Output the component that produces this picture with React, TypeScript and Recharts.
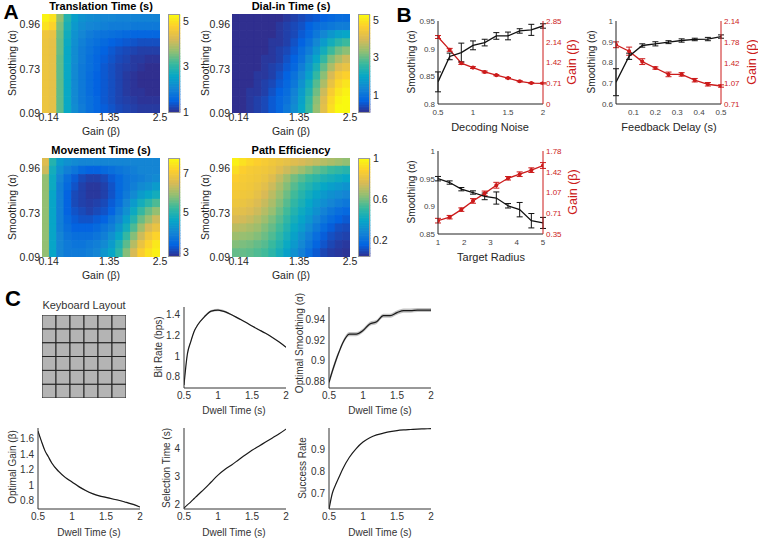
import React from "react";
import { Area, ComposedChart, ErrorBar, Line, Scatter, XAxis, YAxis } from "recharts";

const FONT = '"Liberation Sans", Arial, Helvetica, sans-serif';
const RED = "#cc1b1b";
const INK = "#262626";

// ---------- A: parameter sweeps (16 gain columns x 12 smoothing rows, row 0 = top) ----------
const gainTickLabels = ["0.14", "1.35", "2.5"];
const smoothTickLabels = ["0.96", "0.73", "0.09"];

const translationTime = [
  [5.2, 5.0, 3.7, 2.9, 2.45, 2.25, 2.15, 2.1, 2.05, 2.05, 2.0, 2.0, 2.0, 2.0, 2.0, 2.0],
  [5.0, 4.8, 3.55, 2.8, 2.35, 2.15, 2.05, 2.0, 1.95, 1.9, 1.9, 1.9, 1.85, 1.85, 1.85, 1.85],
  [4.55, 4.45, 3.45, 2.7, 2.25, 2.05, 1.9, 1.8, 1.75, 1.7, 1.65, 1.6, 1.55, 1.55, 1.55, 1.55],
  [4.5, 4.4, 3.4, 2.65, 2.2, 1.95, 1.8, 1.7, 1.6, 1.5, 1.45, 1.4, 1.35, 1.3, 1.3, 1.3],
  [4.5, 4.4, 3.4, 2.6, 2.15, 1.9, 1.75, 1.6, 1.5, 1.4, 1.3, 1.25, 1.2, 1.15, 1.15, 1.15],
  [4.5, 4.4, 3.35, 2.6, 2.15, 1.9, 1.7, 1.55, 1.45, 1.35, 1.25, 1.2, 1.1, 1.1, 1.05, 1.05],
  [4.5, 4.4, 3.35, 2.6, 2.1, 1.85, 1.7, 1.55, 1.4, 1.3, 1.2, 1.15, 1.1, 1.05, 1.0, 1.0],
  [4.5, 4.4, 3.35, 2.6, 2.1, 1.85, 1.65, 1.5, 1.4, 1.3, 1.2, 1.1, 1.05, 1.0, 1.0, 1.0],
  [4.5, 4.4, 3.35, 2.6, 2.1, 1.85, 1.65, 1.5, 1.4, 1.3, 1.2, 1.1, 1.05, 1.0, 1.0, 1.0],
  [4.5, 4.4, 3.35, 2.6, 2.1, 1.85, 1.65, 1.5, 1.4, 1.3, 1.2, 1.1, 1.05, 1.05, 1.0, 1.0],
  [4.5, 4.4, 3.35, 2.6, 2.1, 1.85, 1.7, 1.55, 1.4, 1.3, 1.2, 1.15, 1.1, 1.05, 1.05, 1.05],
  [4.5, 4.4, 3.35, 2.6, 2.15, 1.9, 1.7, 1.55, 1.45, 1.35, 1.25, 1.2, 1.15, 1.1, 1.1, 1.1]
];

const dialInTime = [
  [0.1, 0.1, 0.1, 0.1, 0.1, 0.1, 0.1, 0.2, 0.3, 0.4, 0.5, 0.6, 0.7, 0.8, 0.9, 0.9],
  [0.1, 0.1, 0.1, 0.1, 0.1, 0.1, 0.2, 0.3, 0.4, 0.5, 0.7, 0.9, 1.0, 1.1, 1.2, 1.2],
  [0.1, 0.1, 0.1, 0.1, 0.1, 0.1, 0.2, 0.3, 0.4, 0.6, 0.8, 1.1, 1.4, 1.7, 1.9, 2.0],
  [0.1, 0.1, 0.1, 0.1, 0.1, 0.2, 0.2, 0.3, 0.5, 0.7, 1.0, 1.4, 1.8, 2.2, 2.5, 2.7],
  [0.1, 0.1, 0.1, 0.1, 0.1, 0.2, 0.3, 0.4, 0.6, 0.9, 1.2, 1.7, 2.2, 2.7, 3.1, 3.3],
  [0.1, 0.1, 0.1, 0.1, 0.2, 0.2, 0.3, 0.5, 0.7, 1.0, 1.5, 2.0, 2.6, 3.2, 3.6, 3.9],
  [0.1, 0.1, 0.1, 0.1, 0.2, 0.3, 0.4, 0.6, 0.8, 1.2, 1.7, 2.3, 3.0, 3.6, 4.1, 4.3],
  [0.1, 0.1, 0.1, 0.2, 0.2, 0.3, 0.5, 0.7, 1.0, 1.4, 1.9, 2.6, 3.3, 4.0, 4.5, 4.7],
  [0.1, 0.1, 0.1, 0.2, 0.3, 0.4, 0.6, 0.8, 1.1, 1.6, 2.2, 2.9, 3.6, 4.3, 4.8, 5.0],
  [0.1, 0.1, 0.2, 0.2, 0.3, 0.5, 0.7, 0.9, 1.3, 1.8, 2.4, 3.1, 3.9, 4.6, 5.0, 5.2],
  [0.1, 0.1, 0.2, 0.3, 0.4, 0.6, 0.8, 1.0, 1.4, 1.9, 2.6, 3.3, 4.1, 4.8, 5.2, 5.3],
  [0.1, 0.1, 0.2, 0.3, 0.4, 0.6, 0.8, 1.1, 1.5, 2.0, 2.7, 3.4, 4.2, 4.9, 5.3, 5.3]
];

const movementTime = [
  [6.6, 5.0, 4.4, 4.2, 4.1, 4.0, 4.0, 4.0, 4.0, 4.0, 4.0, 4.0, 4.0, 4.0, 4.0, 4.0],
  [6.4, 4.8, 4.2, 3.9, 3.7, 3.5, 3.4, 3.4, 3.5, 3.6, 3.7, 3.8, 3.9, 4.0, 4.0, 4.0],
  [5.9, 4.7, 4.0, 3.6, 3.3, 3.1, 3.0, 3.0, 3.1, 3.3, 3.5, 3.7, 3.8, 3.9, 4.0, 4.1],
  [5.9, 4.7, 3.9, 3.5, 3.2, 3.0, 2.9, 2.9, 3.0, 3.2, 3.5, 3.7, 3.9, 4.1, 4.2, 4.4],
  [5.9, 4.6, 3.9, 3.4, 3.1, 3.0, 2.9, 2.9, 3.0, 3.2, 3.5, 3.8, 4.1, 4.4, 4.6, 4.8],
  [5.9, 4.6, 3.9, 3.4, 3.1, 3.0, 2.95, 3.0, 3.1, 3.3, 3.6, 4.0, 4.4, 4.8, 5.1, 5.4],
  [5.9, 4.6, 3.9, 3.4, 3.2, 3.1, 3.0, 3.1, 3.2, 3.4, 3.8, 4.2, 4.7, 5.2, 5.6, 5.9],
  [5.9, 4.6, 3.9, 3.5, 3.3, 3.2, 3.2, 3.3, 3.4, 3.7, 4.0, 4.5, 5.0, 5.6, 6.0, 6.4],
  [5.9, 4.6, 3.9, 3.6, 3.4, 3.4, 3.4, 3.5, 3.7, 3.9, 4.3, 4.8, 5.4, 6.0, 6.5, 6.8],
  [5.9, 4.6, 4.0, 3.7, 3.6, 3.6, 3.6, 3.7, 3.9, 4.2, 4.6, 5.2, 5.8, 6.4, 6.9, 7.2],
  [5.9, 4.6, 4.0, 3.8, 3.7, 3.7, 3.8, 3.9, 4.1, 4.4, 4.9, 5.5, 6.2, 6.8, 7.2, 7.5],
  [5.9, 4.6, 4.0, 3.8, 3.8, 3.8, 3.9, 4.0, 4.3, 4.6, 5.1, 5.8, 6.5, 7.1, 7.4, 7.6]
];

const pathEfficiency = [
  [0.97, 0.93, 0.9, 0.88, 0.86, 0.84, 0.82, 0.8, 0.78, 0.76, 0.74, 0.72, 0.7, 0.68, 0.66, 0.64],
  [0.92, 0.88, 0.86, 0.85, 0.84, 0.82, 0.78, 0.74, 0.7, 0.66, 0.62, 0.58, 0.55, 0.52, 0.5, 0.48],
  [0.88, 0.86, 0.85, 0.84, 0.82, 0.78, 0.72, 0.66, 0.6, 0.56, 0.52, 0.49, 0.46, 0.44, 0.42, 0.4],
  [0.86, 0.85, 0.84, 0.82, 0.79, 0.74, 0.68, 0.62, 0.56, 0.51, 0.47, 0.43, 0.4, 0.37, 0.35, 0.33],
  [0.85, 0.84, 0.83, 0.8, 0.76, 0.71, 0.65, 0.59, 0.53, 0.48, 0.43, 0.39, 0.35, 0.32, 0.3, 0.28],
  [0.83, 0.82, 0.8, 0.77, 0.73, 0.68, 0.62, 0.56, 0.5, 0.45, 0.4, 0.35, 0.31, 0.28, 0.25, 0.23],
  [0.8, 0.79, 0.77, 0.74, 0.7, 0.65, 0.59, 0.53, 0.47, 0.42, 0.37, 0.32, 0.27, 0.23, 0.2, 0.18],
  [0.76, 0.75, 0.73, 0.7, 0.66, 0.61, 0.56, 0.5, 0.44, 0.39, 0.34, 0.28, 0.23, 0.19, 0.16, 0.14],
  [0.71, 0.7, 0.68, 0.66, 0.62, 0.58, 0.53, 0.47, 0.41, 0.36, 0.3, 0.24, 0.19, 0.15, 0.12, 0.11],
  [0.66, 0.65, 0.64, 0.62, 0.59, 0.55, 0.5, 0.44, 0.38, 0.32, 0.26, 0.2, 0.15, 0.12, 0.1, 0.09],
  [0.62, 0.61, 0.6, 0.58, 0.56, 0.52, 0.47, 0.41, 0.35, 0.29, 0.23, 0.17, 0.13, 0.1, 0.08, 0.07],
  [0.58, 0.58, 0.57, 0.55, 0.53, 0.49, 0.44, 0.38, 0.32, 0.26, 0.2, 0.14, 0.1, 0.08, 0.07, 0.06]
];

// ---------- B: optimal parameters vs. conditions ----------
const noise = [0.5, 0.667, 0.833, 1.0, 1.167, 1.333, 1.5, 1.667, 1.833, 2.0];
const noiseSmooth = [0.84, 0.886, 0.893, 0.906, 0.911, 0.923, 0.923, 0.932, 0.934, 0.941];
const noiseSmoothErr = [0.018, 0.006, 0.017, 0.008, 0.006, 0.006, 0.007, 0.004, 0.01, 0.004];
const noiseGain = [2.3, 1.86, 1.4, 1.25, 1.1, 0.99, 0.89, 0.78, 0.72, 0.71];
const noiseGainErr = [0.05, 0.05, 0.04, 0.03, 0.03, 0.02, 0.02, 0.02, 0.02, 0.02];

const delay = [0.02, 0.08, 0.14, 0.2, 0.26, 0.32, 0.38, 0.44, 0.5];
const delaySmooth = [0.705, 0.83, 0.882, 0.89, 0.898, 0.906, 0.911, 0.913, 0.925];
const delaySmoothErr = [0.065, 0.015, 0.008, 0.01, 0.007, 0.008, 0.006, 0.008, 0.008];
const delayGain = [1.73, 1.62, 1.44, 1.33, 1.22, 1.22, 1.12, 1.05, 1.02];
const delayGainErr = [0.05, 0.07, 0.05, 0.02, 0.04, 0.03, 0.03, 0.03, 0.02];

const radius = [1, 1.444, 1.889, 2.333, 2.778, 3.222, 3.667, 4.111, 4.556, 5];
const radiusSmooth = [0.95, 0.943, 0.931, 0.925, 0.918, 0.915, 0.901, 0.894, 0.874, 0.87];
const radiusSmoothErr = [0.004, 0.003, 0.003, 0.003, 0.006, 0.011, 0.004, 0.013, 0.013, 0.01];
const radiusGain = [0.58, 0.64, 0.77, 0.92, 1.05, 1.19, 1.31, 1.38, 1.45, 1.53];
const radiusGainErr = [0.04, 0.03, 0.03, 0.04, 0.04, 0.05, 0.03, 0.04, 0.04, 0.05];

// ---------- C: dwell time sweeps ----------
const dwell = [0.5, 0.55, 0.6, 0.65, 0.7, 0.8, 0.9, 1.0, 1.1, 1.2, 1.3, 1.4, 1.5, 1.6, 1.7, 1.8, 1.9, 2.0];
const bitRate = [0.72, 1.02, 1.14, 1.24, 1.3, 1.38, 1.435, 1.445, 1.43, 1.4, 1.365, 1.33, 1.29, 1.255, 1.22, 1.18, 1.135, 1.085];
const bitRateSem = [0.02, 0.015, 0.012, 0.01, 0.01, 0.01, 0.012, 0.012, 0.01, 0.008, 0.006, 0.005, 0.005, 0.005, 0.004, 0.004, 0.004, 0.004];
const optSmooth = [0.879, 0.89, 0.9, 0.909, 0.917, 0.926, 0.926, 0.9295, 0.936, 0.938, 0.944, 0.944, 0.947, 0.949, 0.949, 0.9495, 0.9495, 0.9495];
const optSmoothSem = [0.003, 0.003, 0.003, 0.002, 0.002, 0.002, 0.002, 0.002, 0.002, 0.002, 0.002, 0.002, 0.002, 0.002, 0.002, 0.002, 0.002, 0.002];
const optGain = [1.7, 1.57, 1.45, 1.37, 1.29, 1.18, 1.1, 1.04, 0.98, 0.93, 0.89, 0.86, 0.84, 0.82, 0.8, 0.775, 0.75, 0.715];
const optGainSem = [0.015, 0.012, 0.01, 0.01, 0.01, 0.01, 0.008, 0.008, 0.008, 0.008, 0.006, 0.006, 0.006, 0.006, 0.006, 0.006, 0.006, 0.006];
const selTime = [1.85, 1.97, 2.08, 2.2, 2.32, 2.55, 2.8, 3.05, 3.25, 3.42, 3.6, 3.78, 3.95, 4.1, 4.25, 4.4, 4.55, 4.72];
const successRate = [0.625, 0.7, 0.74, 0.775, 0.81, 0.865, 0.905, 0.935, 0.955, 0.968, 0.976, 0.983, 0.988, 0.991, 0.993, 0.995, 0.996, 0.997];
const dwellTicks = [0.5, 1, 1.5, 2];

const keyRows = [0, 1, 2, 3, 4, 5];
const keyCols = [0, 1, 2, 3, 4, 5];

// parula colormap anchors
const PARULA = ["#352a87", "#0363e1", "#1485d4", "#06a7c6", "#38b99e", "#92bf73", "#d9ba56", "#fcce2e", "#f9fb0e"];
function hexRgb(h: string) {
  return [1, 3, 5].map((i) => parseInt(h.slice(i, i + 2), 16));
}
function parula(t: number) {
  const u = Math.max(0, Math.min(1, t)) * (PARULA.length - 1);
  const i = Math.min(PARULA.length - 2, Math.floor(u));
  const f = u - i;
  const a = hexRgb(PARULA[i]);
  const b = hexRgb(PARULA[i + 1]);
  const c = a.map((v, k) => Math.round(v + (b[k] - v) * f));
  return `rgb(${c[0]},${c[1]},${c[2]})`;
}

function Txt({ x, y, size = 10, rot = 0, color = INK, bold = false, children }: any) {
  return (
    <div
      style={{
        position: "absolute",
        left: x,
        top: y,
        transform: `translate(-50%, -50%) rotate(${rot}deg)`,
        fontSize: size,
        fontWeight: bold ? 700 : 400,
        color,
        whiteSpace: "nowrap",
        lineHeight: 1,
        fontFamily: FONT
      }}
    >
      {children}
    </div>
  );
}

// rectangle centred on the scatter point
function cellShape(w: number, h: number, stroke?: string) {
  return (p: any) => (
    <rect
      x={p.cx - w / 2}
      y={p.cy - h / 2}
      width={w}
      height={h}
      fill={p.payload.fill}
      stroke={stroke || p.payload.fill}
      strokeWidth={stroke ? 1 : 0.5}
    />
  );
}

const HM_W = 118;
const HM_H = 99;
const GAIN_TICK_POS = [0.9, 9.1, 16];
const SMOOTH_TICK_POS = [1.3, 6.7, 12];
const CB_STEPS = 60;

function Heatmap({ px, py, title, grid, lo, hi, cbTicks }: any) {
  const rows = grid.length;
  const cols = grid[0].length;
  const cells: any[] = [];
  grid.forEach((row: number[], r: number) =>
    row.forEach((v: number, c: number) => cells.push({ c: c + 0.5, r: r + 0.5, fill: parula((v - lo) / (hi - lo)) }))
  );
  const bar = Array.from({ length: CB_STEPS }, (_, k) => ({
    c: 0.5,
    v: lo + ((hi - lo) * (k + 0.5)) / CB_STEPS,
    fill: parula((k + 0.5) / CB_STEPS)
  }));
  const tick = { fontSize: 10.5, fill: INK, fontFamily: FONT };
  return (
    <>
      <Txt x={px + HM_W / 2} y={py - 8} size={11} bold color="#000">
        {title}
      </Txt>
      <div style={{ position: "absolute", left: px - 42, top: py - 8 }}>
        <ComposedChart width={42 + HM_W + 12} height={8 + HM_H + 15} data={cells} margin={{ top: 8, right: 12, bottom: 0, left: 0 }}>
          <XAxis
            type="number"
            dataKey="c"
            domain={[0, cols]}
            ticks={GAIN_TICK_POS}
            interval={0}
            tickFormatter={(v: number) => gainTickLabels[GAIN_TICK_POS.indexOf(v)]}
            axisLine={false}
            tickLine={false}
            tickSize={0}
            tickMargin={1}
            height={15}
            tick={tick}
            allowDataOverflow
          />
          <YAxis
            type="number"
            dataKey="r"
            reversed
            domain={[0, rows]}
            ticks={SMOOTH_TICK_POS}
            interval={0}
            tickFormatter={(v: number) => smoothTickLabels[SMOOTH_TICK_POS.indexOf(v)]}
            axisLine={false}
            tickLine={false}
            tickSize={0}
            tickMargin={2}
            width={42}
            tick={tick}
            allowDataOverflow
          />
          <Scatter data={cells} dataKey="r" shape={cellShape(HM_W / cols + 0.4, HM_H / rows + 0.4)} isAnimationActive={false} />
        </ComposedChart>
      </div>
      <div style={{ position: "absolute", left: px + HM_W + 8, top: py - 8 }}>
        <ComposedChart width={12 + 24} height={HM_H + 16} data={bar} margin={{ top: 8, right: 0, bottom: 8, left: 0 }}>
          <XAxis type="number" dataKey="c" domain={[0, 1]} hide />
          <YAxis
            type="number"
            dataKey="v"
            orientation="right"
            domain={[lo, hi]}
            ticks={cbTicks}
            interval={0}
            axisLine={false}
            tickLine={false}
            tickSize={0}
            tickMargin={3}
            width={24}
            tick={tick}
            allowDataOverflow
          />
          <Scatter data={bar} dataKey="v" shape={cellShape(12, HM_H / CB_STEPS + 0.4)} isAnimationActive={false} />
        </ComposedChart>
        <div style={{ position: "absolute", left: 0, top: 8, width: 12, height: HM_H, boxSizing: "border-box", border: "0.8px solid #9a9a9a" }} />
      </div>
    </>
  );
}

const B_W = 105;
const B_H = 83;

function DualPlot({ px, py, x, s, se, g, ge, xDomain, xTicks, sDomain, sTicks, gDomain, gTicks }: any) {
  const data = x.map((xi: number, i: number) => ({ x: xi, s: s[i], se: se[i], g: g[i], ge: ge[i] }));
  const tickL = { fontSize: 8, fill: "#444", fontFamily: FONT };
  const tickR = { fontSize: 8, fill: RED, fontFamily: FONT };
  return (
    <div style={{ position: "absolute", left: px - 30, top: py - 4 }}>
      <ComposedChart width={30 + B_W + 28} height={4 + B_H + 16} data={data} margin={{ top: 4, right: 0, bottom: 0, left: 0 }}>
        <XAxis
          type="number"
          dataKey="x"
          domain={xDomain}
          ticks={xTicks}
          interval={0}
          allowDataOverflow
          axisLine={{ stroke: "#222" }}
          tickLine={false}
          tickSize={0}
          tickMargin={5}
          height={16}
          tick={tickL}
        />
        <YAxis
          yAxisId="s"
          type="number"
          domain={sDomain}
          ticks={sTicks}
          interval={0}
          allowDataOverflow
          axisLine={{ stroke: "#222" }}
          tickLine={false}
          tickSize={0}
          tickMargin={3}
          width={30}
          tick={tickL}
        />
        <YAxis
          yAxisId="g"
          orientation="right"
          type="number"
          domain={gDomain}
          ticks={gTicks}
          interval={0}
          allowDataOverflow
          axisLine={{ stroke: RED }}
          tickLine={false}
          tickSize={0}
          tickMargin={3}
          width={28}
          tick={tickR}
        />
        <Line
          yAxisId="g"
          dataKey="g"
          type="linear"
          stroke={RED}
          strokeWidth={1.3}
          dot={{ r: 1.4, fill: RED, stroke: RED }}
          isAnimationActive={false}
        >
          <ErrorBar dataKey="ge" width={3} stroke={RED} strokeWidth={1} direction="y" />
        </Line>
        <Line yAxisId="s" dataKey="s" type="linear" stroke="#111" strokeWidth={1.3} dot={false} isAnimationActive={false}>
          <ErrorBar dataKey="se" width={3} stroke="#111" strokeWidth={1} direction="y" />
        </Line>
      </ComposedChart>
    </div>
  );
}

const C_W = 102;
const C_H = 81;

function DwellPlot({ px, py, y, sem, yDomain, yTicks }: any) {
  const data = dwell.map((d, i) => ({
    x: d,
    y: y[i],
    band: sem ? [y[i] - sem[i], y[i] + sem[i]] : [y[i], y[i]]
  }));
  const tick = { fontSize: 10, fill: "#333", fontFamily: FONT };
  return (
    <div style={{ position: "absolute", left: px - 32, top: py - 6 }}>
      <ComposedChart width={32 + C_W + 6} height={6 + C_H + 18} data={data} margin={{ top: 6, right: 6, bottom: 0, left: 0 }}>
        <XAxis
          type="number"
          dataKey="x"
          domain={[0.5, 2]}
          ticks={dwellTicks}
          interval={0}
          allowDataOverflow
          axisLine={{ stroke: "#333" }}
          tickLine={false}
          tickSize={0}
          tickMargin={4}
          height={18}
          tick={tick}
        />
        <YAxis
          type="number"
          domain={yDomain}
          ticks={yTicks}
          interval={0}
          allowDataOverflow
          axisLine={{ stroke: "#333" }}
          tickLine={false}
          tickSize={0}
          tickMargin={4}
          width={32}
          tick={tick}
        />
        <Area dataKey="band" type="monotone" fill="#bdbdbd" fillOpacity={0.9} stroke="none" isAnimationActive={false} />
        <Line dataKey="y" type="monotone" stroke="#1a1a1a" strokeWidth={1.2} dot={false} isAnimationActive={false} />
      </ComposedChart>
    </div>
  );
}

function Keyboard({ px, py }: any) {
  const keys: any[] = [];
  keyRows.forEach((r) => keyCols.forEach((c) => keys.push({ c: c + 0.5, r: r + 0.5, fill: "#b4b4b4" })));
  return (
    <div style={{ position: "absolute", left: px, top: py }}>
      <ComposedChart width={84} height={83} data={keys} margin={{ top: 0, right: 0, bottom: 0, left: 0 }}>
        <XAxis type="number" dataKey="c" domain={[0, keyCols.length]} hide />
        <YAxis type="number" dataKey="r" domain={[0, keyRows.length]} hide />
        <Scatter data={keys} dataKey="r" shape={cellShape(84 / keyCols.length, 83 / keyRows.length, "#222")} isAnimationActive={false} />
      </ComposedChart>
    </div>
  );
}

export default function App() {
  return (
    <div
      style={{
        position: "absolute",
        left: 0,
        top: 0,
        width: 758,
        height: 539,
        background: "#fff",
        overflow: "hidden",
        fontFamily: FONT
      }}
    >
      {/* A */}
      <Txt x={11} y={11} size={21} bold color="#000">A</Txt>
      <Heatmap px={42} py={14} title="Translation Time (s)" grid={translationTime} lo={0.95} hi={5.3} cbTicks={[1, 3, 5]} />
      <Heatmap px={232} py={14} title="Dial-in Time (s)" grid={dialInTime} lo={0.04} hi={5.33} cbTicks={[1, 3, 5]} />
      <Heatmap px={42} py={158} title="Movement Time (s)" grid={movementTime} lo={2.75} hi={7.76} cbTicks={[3, 5, 7]} />
      <Heatmap px={232} py={158} title="Path Efficiency" grid={pathEfficiency} lo={0.04} hi={1.0} cbTicks={[0.2, 0.6, 1]} />
      <Txt x={12} y={63} rot={-90} size={10.5}>Smoothing (α)</Txt>
      <Txt x={205} y={63} rot={-90} size={10.5}>Smoothing (α)</Txt>
      <Txt x={12} y={207} rot={-90} size={10.5}>Smoothing (α)</Txt>
      <Txt x={205} y={207} rot={-90} size={10.5}>Smoothing (α)</Txt>
      <Txt x={101} y={131} size={10.5}>Gain (β)</Txt>
      <Txt x={291} y={131} size={10.5}>Gain (β)</Txt>
      <Txt x={101} y={275} size={10.5}>Gain (β)</Txt>
      <Txt x={291} y={275} size={10.5}>Gain (β)</Txt>

      {/* B */}
      <Txt x={404} y={14} size={21} bold color="#000">B</Txt>
      <DualPlot
        px={438}
        py={21}
        x={noise}
        s={noiseSmooth}
        se={noiseSmoothErr}
        g={noiseGain}
        ge={noiseGainErr}
        xDomain={[0.5, 2]}
        xTicks={[0.5, 1, 1.5, 2]}
        sDomain={[0.8, 0.95]}
        sTicks={[0.8, 0.85, 0.9, 0.95]}
        gDomain={[0, 2.85]}
        gTicks={[0, 0.71, 1.42, 2.14, 2.85]}
      />
      <Txt x={412} y={62} rot={-90} size={10}>Smoothing (α)</Txt>
      <Txt x={572} y={62} rot={-90} size={12.5} color={RED}>Gain (β)</Txt>
      <Txt x={490} y={127} size={11}>Decoding Noise</Txt>

      <DualPlot
        px={616}
        py={21}
        x={delay}
        s={delaySmooth}
        se={delaySmoothErr}
        g={delayGain}
        ge={delayGainErr}
        xDomain={[0.02, 0.5]}
        xTicks={[0.1, 0.2, 0.3, 0.4, 0.5]}
        sDomain={[0.6, 1]}
        sTicks={[0.6, 0.7, 0.8, 0.9, 1]}
        gDomain={[0.71, 2.14]}
        gTicks={[0.71, 1.07, 1.42, 1.78, 2.14]}
      />
      <Txt x={592} y={62} rot={-90} size={10}>Smoothing (α)</Txt>
      <Txt x={752} y={62} rot={-90} size={12.5} color={RED}>Gain (β)</Txt>
      <Txt x={669} y={127} size={11}>Feedback Delay (s)</Txt>

      <DualPlot
        px={438}
        py={151}
        x={radius}
        s={radiusSmooth}
        se={radiusSmoothErr}
        g={radiusGain}
        ge={radiusGainErr}
        xDomain={[1, 5]}
        xTicks={[1, 2, 3, 4, 5]}
        sDomain={[0.85, 1]}
        sTicks={[0.85, 0.9, 0.95, 1]}
        gDomain={[0.35, 1.78]}
        gTicks={[0.35, 0.71, 1.07, 1.42, 1.78]}
      />
      <Txt x={412} y={192} rot={-90} size={10}>Smoothing (α)</Txt>
      <Txt x={573} y={192} rot={-90} size={12.5} color={RED}>Gain (β)</Txt>
      <Txt x={491} y={257} size={11}>Target Radius</Txt>

      {/* C */}
      <Txt x={13} y={299} size={22} bold color="#000">C</Txt>
      <Txt x={84} y={305} size={11} color="#333">Keyboard Layout</Txt>
      <Keyboard px={42} py={315} />

      <DwellPlot px={184} py={307} y={bitRate} sem={bitRateSem} yDomain={[0.69, 1.475]} yTicks={[0.8, 1, 1.2, 1.4]} />
      <Txt x={159} y={347} rot={-90} size={10} color="#333">Bit Rate (bps)</Txt>
      <Txt x={234} y={411} size={10} color="#333">Dwell Time (s)</Txt>

      <DwellPlot px={329} py={307} y={optSmooth} sem={optSmoothSem} yDomain={[0.8734, 0.9525]} yTicks={[0.88, 0.9, 0.92, 0.94]} />
      <Txt x={300} y={343} rot={-90} size={10} color="#333">Optimal Smoothing (α)</Txt>
      <Txt x={380} y={411} size={10} color="#333">Dwell Time (s)</Txt>

      <DwellPlot px={38} py={428} y={optGain} sem={optGainSem} yDomain={[0.69, 1.74]} yTicks={[0.8, 1, 1.2, 1.4, 1.6]} />
      <Txt x={13} y={467} rot={-90} size={10} color="#333">Optimal Gain (β)</Txt>
      <Txt x={89} y={533} size={10} color="#333">Dwell Time (s)</Txt>

      <DwellPlot px={184} py={428} y={selTime} yDomain={[1.82, 4.76]} yTicks={[2, 3, 4]} />
      <Txt x={167} y={468} rot={-90} size={10} color="#333">Selection Time (s)</Txt>
      <Txt x={234} y={533} size={10} color="#333">Dwell Time (s)</Txt>

      <DwellPlot px={329} py={428} y={successRate} yDomain={[0.626, 1.0]} yTicks={[0.7, 0.8, 0.9]} />
      <Txt x={303} y={468} rot={-90} size={10} color="#333">Success Rate</Txt>
      <Txt x={380} y={533} size={10} color="#333">Dwell Time (s)</Txt>
    </div>
  );
}
